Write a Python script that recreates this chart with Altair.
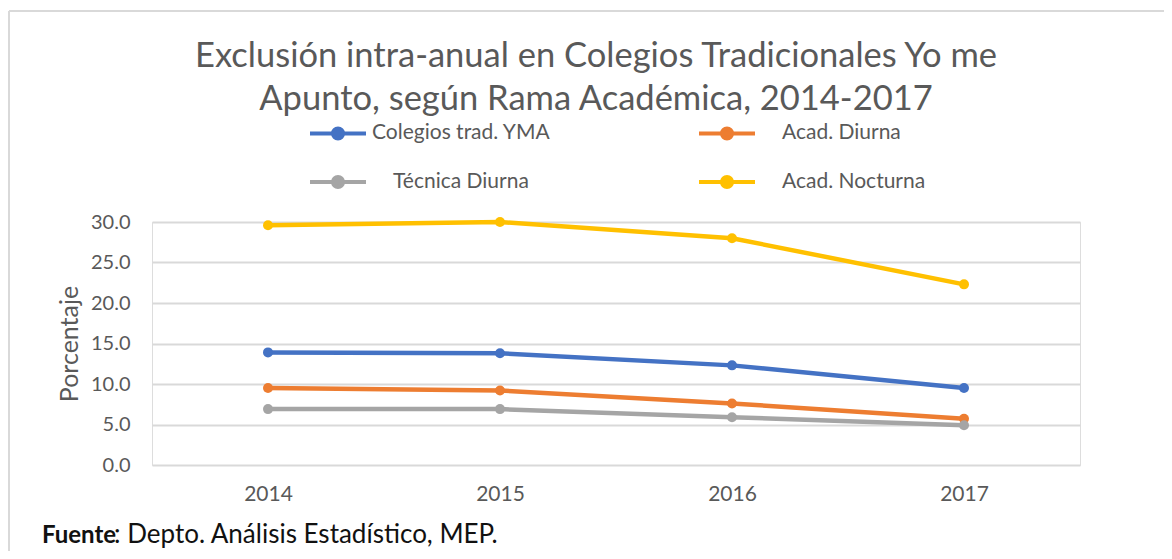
import altair as alt
import pandas as pd

years = ["2014", "2015", "2016", "2017"]
series_names = ["Colegios trad. YMA", "Acad. Diurna", "Técnica Diurna", "Acad. Nocturna"]
colegios = [13.9, 13.8, 12.3, 9.5]
acad_diurna = [9.5, 9.2, 7.6, 5.7]
tecnica = [6.9, 6.9, 5.9, 4.9]
nocturna = [29.6, 30.0, 28.0, 22.3]
colors = ["#4472C4", "#ED7D31", "#A5A5A5", "#FFC000"]
# legend is filled column by column: column 1 = Colegios, Técnica; column 2 = Acad. Diurna, Acad. Nocturna
legend_order = ["Colegios trad. YMA", "Técnica Diurna", "Acad. Diurna", "Acad. Nocturna"]
legend_colors = ["#4472C4", "#A5A5A5", "#ED7D31", "#FFC000"]
y_ticks = [0, 5, 10, 15, 20, 25, 30]

title_lines = ["Exclusión intra-anual en Colegios Tradicionales Yo me",
               "Apunto, según Rama Académica, 2014-2017"]
caption_bold = "Fuente"
caption_rest = ": Depto. Análisis Estadístico, MEP."
top_label = "Gráfico 2"

rows = []
for name, vals in zip(series_names, [colegios, acad_diurna, tecnica, nocturna]):
    for yr, v in zip(years, vals):
        rows.append({"serie": name, "anio": yr, "valor": v})
df = pd.DataFrame(rows)

W, H = 928, 243
FONT = "Lato"
GREY = "#595959"

legend = alt.Legend(
    title=None, orient="none", legendX=156, legendY=-119, columns=2,
    columnPadding=140, rowPadding=5, padding=0, labelOffset=4,
    symbolType="M-1,0L1,0M0.18,0A0.18,0.18,0,1,1,-0.18,0A0.18,0.18,0,1,1,0.18,0Z",
    symbolSize=3136, symbolStrokeWidth=4, symbolOpacity=1,
    labelFont=FONT, labelFontSize=21, labelColor=GREY, labelLimit=400,
    labelExpr="datum.label == 'Colegios trad. YMA' ? datum.label : '\u200b\u2002\u2002' + datum.label",
)

x_enc = alt.X("anio:O", sort=years, scale=alt.Scale(type="point", padding=0.5),
              axis=alt.Axis(title=None, domain=False, ticks=False, grid=False,
                            labelAngle=0, labelFont=FONT, labelFontSize=21,
                            labelColor=GREY, labelPadding=18))
y_enc = alt.Y("valor:Q", scale=alt.Scale(domain=[0, 30], nice=False, zero=True),
              axis=alt.Axis(title="Porcentaje", values=y_ticks, format=".1f",
                            domain=False, ticks=False, grid=True,
                            gridColor="#d9d9d9", gridWidth=2,
                            labelFont=FONT, labelFontSize=20, labelColor=GREY,
                            labelPadding=22, titleFont=FONT, titleFontSize=25,
                            titleFontWeight="normal", titleColor=GREY,
                            titlePadding=8))

base = alt.Chart(df)
lines = base.mark_line(strokeWidth=4.5).encode(
    x=x_enc, y=y_enc,
    stroke=alt.Stroke("serie:N",
                      scale=alt.Scale(domain=legend_order, range=legend_colors), legend=legend),
)
points = base.mark_point(filled=True, size=100, opacity=1).encode(
    x=x_enc, y=y_enc,
    fill=alt.Fill("serie:N",
                  scale=alt.Scale(domain=legend_order, range=legend_colors), legend=legend),
)

one = pd.DataFrame({"k": [0]})
border_top = alt.Chart(one).mark_rule(color="#d9d9d9", strokeWidth=2).encode(
    x=alt.value(-143), x2=alt.value(1012), y=alt.value(-211))
border_left = alt.Chart(one).mark_rule(color="#d9d9d9", strokeWidth=2).encode(
    x=alt.value(-143), y=alt.value(-211), y2=alt.value(329))

t1 = alt.Chart(one).mark_text(text=title_lines[0], font=FONT, fontSize=34.5, color=GREY,
                              align="center", baseline="alphabetic").encode(
    x=alt.value(444), y=alt.value(-155))
t2 = alt.Chart(one).mark_text(text=title_lines[1], font=FONT, fontSize=34.5, color=GREY,
                              align="center", baseline="alphabetic").encode(
    x=alt.value(444), y=alt.value(-112))
g2 = alt.Chart(one).mark_text(text=top_label, font=FONT, fontSize=20, fontWeight="bold",
                              color="#222222", align="center", baseline="alphabetic").encode(
    x=alt.value(445), y=alt.value(-214))
c1 = alt.Chart(one).mark_text(text=caption_bold, font=FONT, fontSize=24, fontWeight="bold",
                              color="#111111", align="left", baseline="alphabetic").encode(
    x=alt.value(-110), y=alt.value(321))
c2 = alt.Chart(one).mark_text(text=caption_rest, font=FONT, fontSize=26,
                              color="#111111", align="left", baseline="alphabetic").encode(
    x=alt.value(-38), y=alt.value(321))

chart = alt.layer(border_top, border_left, lines, points, t1, t2, g2, c1, c2).properties(
    width=W, height=H,
    autosize=alt.AutoSizeParams(type="none"),
    padding={"left": 144, "top": 214, "right": 84, "bottom": 86},
).configure_view(stroke=None).configure(background="white")

chart.save("out.html", embed_options={"renderer": "svg", "actions": False})
